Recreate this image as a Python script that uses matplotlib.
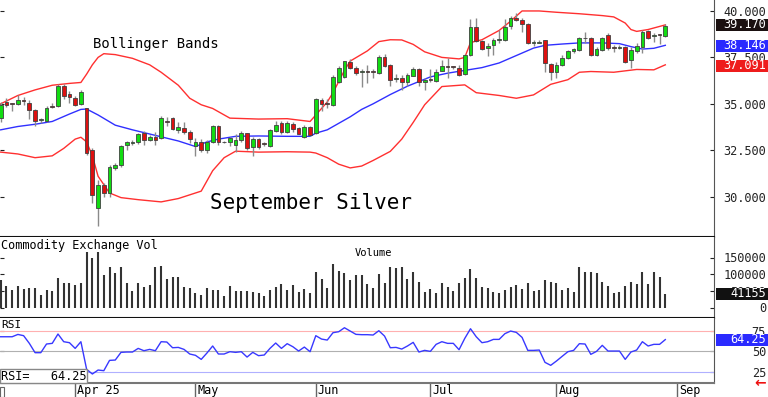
import matplotlib
matplotlib.use("Agg")
import matplotlib.pyplot as plt
import matplotlib.transforms as mtransforms
from matplotlib.patches import Rectangle
import numpy as np
import pandas as pd

# trading calendar (COMEX silver, Sep 2025 contract)
holidays = ["2025-04-18", "2025-05-26", "2025-06-19", "2025-07-04", "2025-09-01"]
days = pd.bdate_range("2025-03-13", "2025-09-05")
days = days[~days.isin(pd.to_datetime(holidays))]

opens = [34.23, 35.12, 35.02, 34.98, 35.2, 35.04, 34.68, 34.12, 34.05, 34.88,
         34.9, 35.97, 35.54, 35.3, 35.0, 34.77, 32.53, 29.39, 30.65, 30.2,
         31.54, 31.72, 32.8, 32.88, 32.92, 33.42, 33.06, 33.24, 33.16, 34.05,
         34.23, 33.6, 33.69, 33.51, 32.75, 32.97, 32.5, 32.97, 33.78, 32.92,
         32.97, 32.8, 33.06, 33.42, 32.67, 33.1, 32.88, 32.74, 33.56, 33.96,
         33.51, 33.92, 33.69, 33.24, 33.75, 33.42, 35.2, 35.06, 34.95, 36.2,
         36.47, 37.24, 36.95, 36.72, 36.76, 36.74, 36.65, 37.54, 37.1, 36.36,
         36.38, 36.17, 36.52, 36.88, 36.17, 36.32, 36.24, 36.77, 37.02, 37.0,
         36.95, 36.6, 37.63, 39.16, 38.39, 37.99, 38.17, 38.42, 38.44, 39.21,
         39.64, 39.52, 39.28, 38.28, 38.3, 38.44, 37.13, 36.74, 37.1, 37.46,
         37.82, 37.9, 38.55, 38.53, 37.63, 37.9, 38.71, 38.05, 38.02, 38.05,
         37.37, 37.87, 38.08, 38.94, 38.64, 38.72, 38.66]
highs = [35.1, 35.3, 35.02, 35.45, 35.35, 35.2, 34.7, 34.25, 34.9, 35.05,
         36.05, 36.05, 35.7, 35.4, 35.72, 34.8, 32.6, 30.91, 30.75, 31.72,
         31.8, 32.8, 33.0, 33.05, 33.45, 33.55, 33.3, 33.51, 34.32, 34.3,
         34.3, 34.0, 34.0, 33.6, 33.15, 33.1, 33.05, 33.85, 33.85, 33.0,
         33.2, 33.35, 33.55, 33.45, 33.2, 33.15, 32.95, 33.65, 34.05, 34.1,
         34.05, 34.0, 33.75, 33.85, 33.8, 35.3, 35.3, 35.25, 36.55, 37.05,
         37.3, 37.4, 37.05, 36.85, 37.1, 36.9, 37.65, 37.7, 37.15, 36.6,
         36.55, 36.65, 37.0, 36.92, 36.4, 36.85, 36.85, 37.35, 37.45, 37.05,
         37.1, 37.7, 39.57, 39.6, 38.45, 38.3, 38.55, 38.95, 39.55, 39.72,
         39.88, 39.6, 39.35, 38.45, 38.45, 38.44, 37.2, 37.25, 37.65, 37.9,
         38.0, 38.62, 38.85, 38.62, 38.05, 38.62, 38.8, 38.17, 38.17, 38.12,
         38.07, 38.25, 39.0, 38.98, 38.84, 38.76, 39.3]
lows = [34.0, 34.85, 34.6, 34.95, 34.95, 34.2, 33.78, 33.95, 34.0, 34.75,
        34.85, 35.25, 35.05, 34.9, 34.95, 32.25, 29.66, 28.44, 30.0, 30.0,
        31.45, 31.6, 32.5, 32.8, 32.85, 32.8, 33.0, 32.8, 33.1, 33.78,
        33.6, 33.45, 33.35, 32.9, 32.2, 32.4, 32.35, 32.9, 32.8, 32.88,
        32.75, 32.43, 32.95, 32.5, 32.17, 32.55, 32.75, 32.7, 33.5, 33.4,
        33.45, 33.5, 33.35, 33.15, 33.25, 33.38, 34.6, 34.8, 34.9, 36.1,
        36.4, 36.9, 36.55, 35.93, 36.1, 36.4, 36.6, 37.0, 35.95, 36.2,
        35.75, 35.95, 36.5, 35.95, 35.72, 36.15, 36.15, 36.75, 36.4, 36.9,
        36.5, 36.55, 37.55, 38.35, 37.9, 37.6, 37.65, 38.3, 38.4, 39.05,
        39.45, 38.85, 38.2, 38.1, 38.3, 36.74, 36.29, 36.4, 37.05, 37.4,
        37.75, 37.85, 38.3, 37.58, 37.55, 37.85, 37.9, 37.8, 37.95, 37.18,
        36.92, 37.75, 37.72, 38.48, 38.33, 38.22, 38.62]
closes = [34.95, 34.95, 34.98, 35.22, 35.15, 34.68, 34.1, 34.16, 34.77, 34.84,
          35.97, 35.4, 35.36, 34.95, 35.66, 32.35, 30.11, 30.65, 30.2, 31.58,
          31.68, 32.74, 32.92, 32.95, 33.37, 33.06, 33.24, 33.06, 34.23, 34.0,
          33.64, 33.73, 33.46, 33.1, 32.97, 32.53, 32.97, 33.78, 32.92, 32.95,
          33.15, 33.05, 33.42, 32.62, 33.1, 32.7, 32.85, 33.6, 33.87, 33.51,
          33.96, 33.64, 33.39, 33.75, 33.33, 35.25, 34.98, 35.0, 36.47, 36.92,
          37.28, 36.95, 36.68, 36.75, 36.72, 36.7, 37.54, 37.06, 36.29, 36.4,
          36.2, 36.56, 36.88, 36.17, 36.3, 36.3, 36.74, 37.04, 36.98, 36.97,
          36.56, 37.63, 39.16, 38.39, 37.96, 38.13, 38.44, 38.44, 39.16, 39.64,
          39.52, 39.29, 38.26, 38.3, 38.35, 37.19, 36.74, 37.1, 37.46, 37.82,
          37.95, 38.53, 38.52, 37.63, 37.94, 38.53, 38.0, 38.03, 38.04, 37.27,
          37.9, 38.12, 38.89, 38.53, 38.68, 38.7, 39.17]

# bollinger bands at selected bars
upper_idx = [0, 3, 6, 9, 12, 14, 15, 16, 17, 18, 20, 23, 26, 28, 31, 33, 35, 37, 40, 45,
             50, 54, 55, 57, 58, 60, 61, 64, 66, 68, 70, 72, 74, 77, 80, 81, 82, 84, 87, 89,
             91, 94, 97, 101, 105, 107, 109, 110, 111, 113, 116]
upper_val = [35.0, 35.45, 35.75, 36.0, 36.1, 36.15, 36.6, 37.1, 37.5, 37.7, 37.65, 37.45, 37.1,
             36.7, 36.0, 35.3, 34.95, 34.75, 34.23, 34.18, 34.2, 34.05, 34.4, 35.1, 35.6, 36.8,
             37.3, 37.85, 38.35, 38.45, 38.44, 38.2, 37.8, 37.5, 37.42, 37.5, 38.3, 38.45, 38.95,
             39.45, 40.0, 40.0, 39.93, 39.85, 39.75, 39.68, 39.35, 39.0, 38.9, 39.0, 39.25]
mid_idx = [0, 3, 6, 9, 12, 14, 15, 17, 20, 23, 27, 31, 34, 36, 38, 41, 45, 50, 54, 55, 57,
           59, 61, 63, 65, 68, 71, 75, 78, 81, 84, 87, 90, 93, 95, 98, 101, 105, 108, 110,
           112, 114, 116]
mid_val = [33.6, 33.78, 33.9, 34.05, 34.45, 34.7, 34.72, 34.4, 33.85, 33.6, 33.3, 33.0, 32.7,
           32.95, 33.1, 33.25, 33.27, 33.25, 33.25, 33.42, 33.6, 33.95, 34.3, 34.7, 35.0, 35.5,
           35.95, 36.45, 36.65, 36.8, 36.95, 37.2, 37.6, 38.0, 38.15, 38.22, 38.28, 38.28,
           38.24, 38.08, 37.95, 37.99, 38.15]
lower_idx = [0, 3, 6, 9, 11, 13, 14, 15, 16, 17, 19, 21, 24, 28, 31, 33, 35, 37, 39, 41, 45,
             50, 54, 55, 57, 59, 61, 63, 65, 68, 70, 72, 74, 77, 81, 83, 87, 90, 93, 96, 99,
             101, 103, 107, 111, 114, 116]
lower_val = [32.4, 32.3, 32.1, 32.2, 32.6, 33.1, 33.2, 32.95, 32.2, 31.1, 30.2, 29.95, 29.84,
             29.72, 29.9, 30.1, 30.3, 31.4, 32.1, 32.45, 32.4, 32.42, 32.4, 32.35, 32.1, 31.75,
             31.55, 31.65, 31.95, 32.44, 33.1, 34.0, 34.95, 35.93, 36.02, 35.6, 35.45, 35.3,
             35.48, 36.05, 36.3, 36.7, 36.74, 36.7, 36.85, 36.83, 37.1]

volume = [82500, 64500, 51500, 65500, 55500, 57500, 59500, 36500, 52500, 49500,
          87500, 74500, 72500, 66500, 74500, 165500, 149500, 165500, 97500, 121500,
          103500, 120500, 72500, 49500, 74500, 62500, 67500, 122500, 124500, 86500,
          91500, 91500, 62500, 57500, 43500, 36500, 59500, 53500, 53500, 35500,
          65500, 50500, 50500, 49500, 47500, 42500, 35500, 52500, 62500, 70500,
          52500, 67500, 45500, 54500, 44500, 105500, 85500, 59500, 130500, 108500,
          102500, 82500, 97500, 97500, 70500, 57500, 100500, 74500, 122500, 119500,
          122500, 84500, 107500, 77500, 45500, 55500, 42500, 72500, 60500, 49500,
          72500, 87500, 114500, 87500, 60500, 57500, 45500, 44500, 52500, 62500,
          67500, 54500, 72500, 50500, 52500, 83500, 75500, 74500, 52500, 57500,
          45500, 120500, 107500, 107500, 102500, 75500, 64500, 42500, 47500, 64500,
          75500, 69500, 107500, 69500, 107500, 92500, 41155]

rsi = [67.7, 67.7, 67.7, 70.5, 69, 59.7, 48.4, 48.4, 58.9, 59.7,
       71, 61.7, 60.5, 53.6, 61.7, 28.2, 22.6, 27.4, 26.6, 39.1,
       39.5, 48.8, 49.2, 49.2, 53.6, 50.8, 52.4, 50.8, 61.7, 61.3,
       54.4, 54.8, 52.4, 46.8, 45.2, 40.3, 48, 56.5, 46.8, 46.8,
       49.6, 48.8, 49.6, 43.1, 48.8, 44.8, 45.6, 53.6, 60.1, 53.6,
       59.3, 55.6, 50.4, 55.2, 49.6, 69, 64.9, 63.7, 72.6, 73.8,
       78.6, 74.6, 70.6, 70.2, 70.2, 69.8, 75, 68.5, 54.4, 54.8,
       52.8, 56.5, 60.9, 49.2, 51.2, 50, 58.5, 61.7, 59.7, 59.7,
       52, 65.7, 77.4, 67.7, 60.5, 61.7, 64.5, 64.5, 71.4, 74.6,
       73, 66.9, 51.2, 51.2, 51.6, 36.7, 33.1, 38.3, 44, 49.6,
       51.2, 59.3, 58.9, 46.4, 50, 57.3, 50.4, 50.4, 50.4, 40.3,
       49.2, 51.6, 61.7, 56.5, 58.5, 58.5, 64.25]

price_ticks = [30.0, 32.5, 35.0, 37.5, 40.0]
vol_ticks = [0, 50000, 100000, 150000]
rsi_ticks = [25, 50, 75]

MONO = "DejaVu Sans Mono"
W, H = 768, 397
fig = plt.figure(figsize=(W / 100, H / 100), dpi=100)
plt.rcParams["font.family"] = MONO


def panel(top, bottom):
    return fig.add_axes([0, 1 - bottom / H, 714 / W, (bottom - top) / H])


ax_p = panel(0, 237)
ax_v = panel(237, 318)
ax_r = panel(318, 383)

x = np.arange(len(closes))
o = np.array(opens)
c = np.array(closes)
up = c >= o

# price panel
ax_p.plot(upper_idx, upper_val, color="#ff3030", lw=1, zorder=1)
ax_p.plot(lower_idx, lower_val, color="#ff3030", lw=1, zorder=1)
ax_p.plot(mid_idx, mid_val, color="#3030ff", lw=1, zorder=1)
ax_p.vlines(x, lows, highs, color="#8a8a8a", lw=1, zorder=2)
ax_p.bar(x, np.maximum(np.abs(c - o), 0.05), bottom=np.minimum(o, c), width=0.65,
         color=np.where(up, "#12dc12", "#dd1010"), edgecolor="#404040", linewidth=0.6, zorder=3)
ax_p.set_ylim(27.83, 40.59)
ax_p.set_yticks(price_ticks, [f"{t:.3f}" for t in price_ticks])
ax_p.text(93 / 714, (237 - 44) / 237, "Bollinger Bands", transform=ax_p.transAxes,
          fontsize=10, va="center", ha="left")
ax_p.text(210 / 714, (237 - 203) / 237, "September Silver", transform=ax_p.transAxes,
          fontsize=15, va="center", ha="left")

# volume panel
ax_v.vlines(x, 0, volume, color="#333333", lw=1.5)
ax_v.set_ylim(-31500, 211500)
ax_v.set_yticks(vol_ticks, [str(t) for t in vol_ticks])
ax_v.text(1 / 714, (318 - 245) / 81, "Commodity Exchange Vol", transform=ax_v.transAxes,
          fontsize=8.6, va="center", ha="left")
ax_v.text(373 / 714, (318 - 253) / 81, "Volume", transform=ax_v.transAxes,
          fontsize=7.5, va="center", ha="center")

# rsi panel
ax_r.axhline(75, color="#ffb0b0", lw=0.8)
ax_r.axhline(50, color="#b0b0b0", lw=0.8)
ax_r.axhline(25, color="#b0b0ff", lw=0.8)
ax_r.plot(x, rsi, color="#3838ff", lw=1)
ax_r.set_ylim(11.7, 90.4)
ax_r.set_yticks(rsi_ticks, [str(t) for t in rsi_ticks])
ax_r.text(1 / 714, (383 - 325) / 65, "RSI", transform=ax_r.transAxes,
          fontsize=8, va="center", ha="left")

for ax, bottom_col in ((ax_p, "#111111"), (ax_v, "#111111"), (ax_r, "#777777")):
    ax.set_xlim(-0.12, 124.5)
    for s in ("top", "left"):
        ax.spines[s].set_visible(False)
    ax.spines["bottom"].set_color(bottom_col)
    ax.spines["bottom"].set_linewidth(1.5)
    ax.spines["right"].set_color("#555555")
    ax.tick_params(axis="y", direction="in", length=3, left=True, right=True,
                   labelleft=False, labelright=True, labelsize=8.6, pad=37.4, colors="#222222")
    plt.setp(ax.yaxis.get_majorticklabels(), ha="right")
    ax.tick_params(axis="x", bottom=False, labelbottom=False)

# month ticks along the bottom
month_pos = [i for i in range(1, len(days)) if days[i].month != days[i - 1].month]
month_lab = [days[i].strftime("%b") for i in month_pos]
month_lab[0] = days[month_pos[0]].strftime("%b %y")
ax_r.set_xticks(month_pos)
ax_r.tick_params(axis="x", bottom=True, direction="out", length=10, width=1,
                 color="#666666", labelbottom=False)
bt = mtransforms.blended_transform_factory(ax_r.transData, ax_r.transAxes)
for pos, lab in zip(month_pos, month_lab):
    ax_r.text(pos + 0.35, -0.11, lab, transform=bt, fontsize=8.5, va="center", ha="left",
              clip_on=False)

# value tags on the right axis
ident = mtransforms.IdentityTransform()


def tag(ax, y, txt, bg):
    _, yp = ax.transData.transform((0, y))
    fig.add_artist(Rectangle((716, yp - 6), 52, 12, transform=ident, fc=bg, ec="none", zorder=5))
    fig.text(766, yp, txt, transform=ident, color="white", fontsize=8.6,
             va="center", ha="right", zorder=6)


tag(ax_p, 39.25, f"{closes[-1]:.3f}", "#1a1010")
tag(ax_p, mid_val[-1] - 0.03, "38.146", "#2a2aff")
tag(ax_p, 37.05, "37.091", "#ee1c1c")
tag(ax_v, volume[-1], str(volume[-1]), "#111111")
tag(ax_r, rsi[-1], f"{rsi[-1]:.2f}", "#2a2aff")

# rsi readout box and small markers
fig.add_artist(Rectangle((0, H - 383), 87, 14, transform=ident, fc="white", ec="#888888",
                         lw=1, zorder=5))
fig.text(1, H - 376, f"RSI=   {rsi[-1]:.2f}", transform=ident, fontsize=8.6,
         va="center", ha="left", zorder=6)
fig.add_artist(Rectangle((0, H - 397), 4, 10, transform=ident, fc="none", ec="#666666",
                         lw=0.8))
fig.text(760, H - 383, "\u2190", transform=ident, color="#ee1111", fontsize=10,
         fontweight="bold", va="center", ha="center", family="DejaVu Sans")

fig.savefig("out.png", dpi=100)
